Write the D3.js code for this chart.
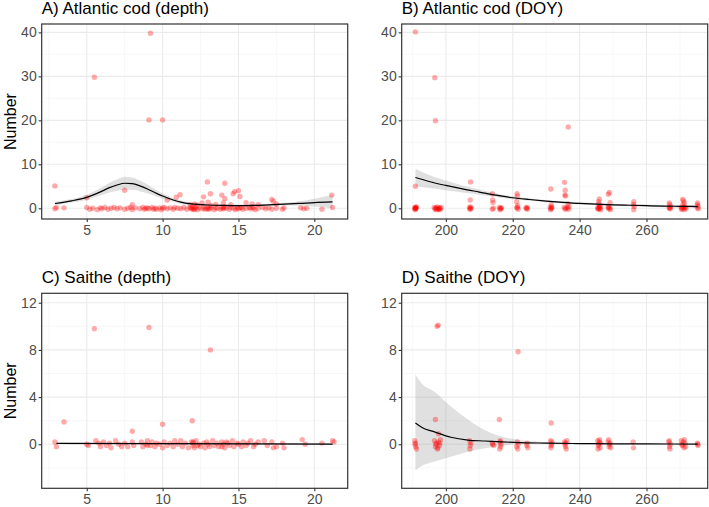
<!DOCTYPE html>
<html>
<head>
<meta charset="utf-8">
<script src="https://cdn.jsdelivr.net/npm/d3@7"></script>
<style>
  body { margin: 0; background: #fff; }
  svg { font-family: "Liberation Sans", Arial, sans-serif; }
</style>
</head>
<body>
<div class="canvas"></div>
<script>
// axis ticks
const depthTicks = [5, 10, 15, 20];
const doyTicks = [200, 220, 240, 260];
const codTicks = [0, 10, 20, 30, 40];
const saitheTicks = [0, 4, 8, 12];

// points: [x, number] (zero counts carry their jitter)
const codDepthPoints = [
  [9.2,39.8],[5.5,29.8],[9.1,20.1],[10.0,20.1],[2.9,5.1],[7.5,4.1],[5.0,2.4],[12.95,6.0],
  [14.1,5.7],[14.75,3.8],[15.0,4.0],[14.65,3.3],[15.1,2.7],[13.15,3.3],[13.9,3.0],[12.7,2.6],
  [14.1,2.2],[11.15,3.1],[10.9,2.5],[10.3,1.9],[13.0,1.4],[12.1,1.0],[12.6,1.2],[13.5,0.9],
  [15.5,1.3],[15.9,1.0],[16.3,0.8],[17.2,2.0],[17.3,1.6],[17.5,1.0],[21.15,3.0],[8.0,0.8],
  [11.8,0.8],[14.0,1.2],[14.5,0.8],[12.3,0.7],[13.2,0.6],
  [3.0,0.2],[2.9,-0.1],[3.5,0.1],[5.0,0.2],[5.2,-0.2],[5.4,0.0],[5.7,-0.3],[5.9,0.1],[6.0,-0.1],
  [6.2,0.2],[6.4,-0.2],[6.6,0.0],[6.8,0.2],[7.0,-0.1],[7.2,0.1],[7.5,-0.2],[7.7,0.0],[7.9,0.2],
  [8.0,-0.3],[8.2,0.1],[8.5,-0.1],[8.7,0.2],[8.8,-0.2],[9.0,0.1],[9.1,-0.1],[9.3,0.2],[9.5,0.0],
  [9.6,-0.2],[9.8,0.1],[9.9,-0.3],[10.0,0.0],[10.1,0.2],[10.3,-0.1],[10.5,0.1],[10.7,-0.2],
  [10.8,0.2],[11.0,0.0],[11.2,-0.1],[11.4,0.2],[11.6,-0.2],[11.8,0.1],[11.9,-0.1],[12.0,0.3],
  [12.0,-0.2],[12.1,0.0],[12.2,0.2],[12.3,-0.3],[12.4,0.1],[12.6,-0.1],[12.7,0.2],[12.8,-0.2],
  [12.9,0.0],[13.0,0.2],[13.1,-0.1],[13.2,0.1],[13.4,-0.3],[13.5,0.2],[13.6,0.0],[13.8,-0.2],
  [13.9,0.1],[14.0,-0.1],[14.1,0.3],[14.2,0.0],[14.4,-0.2],[14.5,0.2],[14.7,0.0],[14.8,-0.3],
  [14.9,0.1],[15.0,-0.1],[15.2,0.2],[15.3,-0.2],[15.5,0.0],[15.7,0.2],[15.8,-0.1],[16.0,0.1],
  [16.1,-0.3],[16.3,0.0],[16.6,0.2],[16.8,-0.1],[17.0,0.1],[17.2,-0.2],[17.5,0.0],[17.9,-0.2],
  [18.0,0.1],[19.1,0.1],[19.3,-0.1],[19.5,0.0],[20.5,-0.2],[21.2,0.2],
  [8.9,0.0],[9.4,-0.2],[11.9,0.2],[12.1,-0.3],[13.0,-0.2],[14.0,0.2],[15.1,0.1],[15.9,0.2]
];

const codDoyPoints = [
  [190.7,0.2],[191.0,-0.1],[190.9,0.0],[191.2,0.3],[190.8,-0.3],[191.1,0.1],[190.9,5.0],[190.9,40.1],
  [191.0,0.2],[190.8,-0.1],
  [196.5,0.2],[196.8,-0.2],[197.1,0.0],[197.4,0.3],[197.7,-0.1],[198.0,0.1],[198.3,-0.3],[198.6,0.2],
  [196.9,0.0],[197.9,-0.2],[196.7,29.7],[196.9,19.9],[197.3,-0.3],[198.2,0.0],
  [207.1,0.2],[207.3,-0.2],[207.6,0.0],[207.4,0.3],[207.2,-0.1],[207.4,6.0],[207.3,1.9],
  [213.9,3.3],[214.0,1.9],[214.1,1.3],[214.2,0.0],[213.9,-0.2],
  [216.0,0.2],[216.3,-0.1],[216.5,0.1],[216.2,-0.3],[216.6,0.0],
  [221.3,3.3],[221.4,2.8],[221.2,1.5],[221.5,0.6],[221.2,0.1],[221.6,-0.2],[221.4,0.2],
  [224.0,0.0],[224.3,-0.2],[224.4,0.1],[224.1,0.2],
  [231.4,4.4],[231.2,0.2],[231.5,-0.1],[231.7,0.1],[231.3,-0.3],[231.6,0.3],[231.5,0.8],
  [235.5,5.9],[235.7,4.1],[235.6,3.0],[235.8,2.8],[235.4,0.2],[235.7,-0.2],[235.9,0.0],
  [236.6,18.5],[236.5,1.0],[236.8,0.4],[236.4,0.1],[236.7,-0.2],
  [245.9,2.1],[245.7,1.5],[245.8,1.0],[246.0,0.5],[245.5,0.2],[245.7,-0.2],[246.0,0.0],[246.2,0.3],
  [245.4,-0.1],[246.3,-0.3],[245.8,0.1],
  [248.6,3.2],[248.9,3.6],[249.1,1.3],[248.5,0.2],[248.8,-0.1],[249.0,0.1],[249.2,-0.3],[248.7,0.3],
  [256.2,1.5],[256.1,0.9],[256.3,0.4],[256.2,-0.3],
  [266.8,1.2],[267.0,0.8],[266.8,0.2],[267.1,-0.1],[266.9,0.0],[267.2,0.3],
  [270.8,2.0],[271.1,1.7],[271.3,1.2],[270.9,0.8],[270.4,0.2],[270.7,-0.1],[271.0,0.1],[271.3,-0.3],
  [271.6,0.2],[271.8,0.0],[270.5,-0.2],[271.1,0.3],
  [275.3,1.2],[275.2,0.8],[275.4,0.5],[275.2,0.1],[275.5,-0.1]
];

const saitheDepthPoints = [
  [5.5,9.8],[9.1,9.9],[13.15,8.0],[3.5,1.9],[11.95,2.0],[10.0,1.7],[8.0,1.1],[19.2,0.4],
  [2.9,0.2],[3.0,-0.2],[5.0,0.0],[5.1,-0.1],[5.6,0.3],[5.8,0.1],[5.9,-0.2],[6.1,0.2],[6.3,-0.1],
  [6.5,0.1],[6.6,-0.3],[6.9,0.3],[7.1,0.0],[7.3,-0.2],[7.5,0.1],[7.7,-0.2],[8.0,0.2],[8.1,-0.1],
  [8.6,0.2],[8.7,-0.2],[8.9,0.0],[9.0,0.3],[9.2,-0.1],[9.3,0.2],[9.5,-0.2],[9.6,0.1],[9.8,0.0],
  [10.0,-0.3],[10.1,0.2],[10.3,-0.1],[10.5,0.1],[10.7,-0.2],[10.8,0.3],[11.0,0.0],[11.2,0.3],
  [11.3,-0.2],[11.5,0.1],[11.7,-0.3],[11.9,0.2],[12.0,-0.1],[12.0,0.1],[12.1,-0.3],[12.2,0.3],
  [12.4,0.0],[12.5,-0.2],[12.7,0.1],[12.8,-0.3],[12.9,0.2],[13.0,0.0],[13.1,-0.2],[13.3,0.3],
  [13.4,-0.1],[13.6,0.1],[13.7,-0.2],[13.9,0.2],[14.0,0.0],[14.1,-0.3],[14.3,0.1],[14.4,-0.1],
  [14.6,0.3],[14.7,-0.2],[14.9,0.1],[15.0,0.0],[15.2,-0.2],[15.3,0.2],[15.5,-0.1],[15.6,0.1],
  [15.8,0.3],[16.0,-0.2],[16.1,0.0],[16.3,0.2],[16.7,0.3],[16.9,-0.1],[17.2,0.2],[17.3,-0.3],
  [17.5,-0.2],[17.9,0.1],[18.0,-0.3],[19.4,0.0],[20.5,0.1],[21.2,0.3],[21.3,0.2],
  [9.0,-0.1],[12.0,0.2],[12.3,-0.1],[13.9,-0.2],[14.2,0.2]
];

const saitheDoyPoints = [
  [197.7,10.1],[197.4,10.0],[196.9,2.1],[221.6,7.85],[216.0,2.1],[231.5,1.8],[197.8,0.9],
  [190.7,0.3],[191.0,-0.2],[190.9,0.1],[191.2,-0.4],[190.8,0.0],
  [196.6,0.3],[196.9,-0.2],[197.2,0.1],[197.5,-0.4],[197.8,0.2],[198.1,-0.1],[198.4,0.4],[197.0,0.0],
  [197.6,-0.3],[198.2,0.1],
  [207.1,0.3],[207.3,-0.1],[207.5,0.1],[207.2,-0.4],
  [214.0,0.0],[214.3,-0.1],[213.9,0.1],
  [216.2,0.2],[216.4,-0.2],[216.1,-0.4],[216.5,0.0],[216.3,0.3],
  [221.4,0.2],[221.2,-0.2],[221.6,0.0],[221.5,-0.4],
  [224.3,0.1],[224.5,-0.3],[224.2,-0.1],
  [231.3,0.3],[231.5,-0.1],[231.7,0.2],[231.4,-0.3],[231.6,0.0],
  [235.5,0.2],[235.8,-0.2],[235.6,0.0],[236.2,0.3],[236.0,-0.4],[235.9,0.1],
  [245.4,0.3],[245.6,-0.1],[245.9,0.2],[246.1,-0.3],[245.7,0.0],[246.3,0.1],[245.5,-0.4],[246.0,0.4],
  [248.5,0.2],[248.8,-0.2],[249.1,0.1],[249.3,-0.3],[248.7,0.4],[249.0,0.0],
  [256.0,0.2],[256.1,-0.3],
  [266.7,0.2],[266.9,-0.2],[267.1,0.0],[266.8,0.3],[267.0,-0.4],
  [270.4,0.3],[270.7,-0.1],[271.0,0.2],[271.2,-0.3],[271.5,0.1],[271.7,-0.2],[270.6,0.0],[271.3,0.4],
  [275.2,0.1],[275.4,-0.1],[275.3,0.0]
];

// smoother fits with their confidence band
const codDepthFitX = [2.9, 4, 5, 6, 6.5, 7, 7.5, 8, 8.5, 9, 9.6, 10, 10.7, 11.2, 11.9, 13, 14, 15, 16, 17, 18, 19, 20, 21.2];
const codDepthFit  = [1.1, 1.7, 2.5, 3.9, 4.7, 5.3, 5.7, 5.6, 5.1, 4.4, 3.4, 2.8, 1.9, 1.4, 1.0, 0.75, 0.65, 0.6, 0.65, 0.8, 0.95, 1.1, 1.3, 1.45];
const codDepthLo   = [0.7, 1.3, 1.9, 3.0, 3.6, 4.0, 4.2, 4.2, 3.9, 3.4, 2.7, 2.2, 1.5, 1.0, 0.7, 0.5, 0.4, 0.35, 0.4, 0.55, 0.65, 0.6, 0.4, 0.0];
const codDepthHi   = [1.5, 2.1, 3.1, 4.8, 5.8, 6.6, 7.2, 7.0, 6.3, 5.4, 4.1, 3.4, 2.3, 1.8, 1.3, 1.0, 0.9, 0.85, 0.9, 1.05, 1.25, 1.6, 2.2, 3.0];

const codDoyFitX = [190.9, 195, 200, 205, 210, 215, 220, 225, 230, 235, 240, 245, 250, 255, 260, 265, 270, 275.3];
const codDoyFit  = [7.0, 6.1, 5.2, 4.4, 3.7, 3.0, 2.4, 2.0, 1.65, 1.35, 1.1, 0.95, 0.8, 0.7, 0.6, 0.5, 0.45, 0.4];
const codDoyLo   = [5.0, 4.6, 4.1, 3.6, 3.1, 2.55, 2.05, 1.7, 1.4, 1.1, 0.85, 0.7, 0.55, 0.45, 0.35, 0.25, 0.15, 0.05];
const codDoyHi   = [9.0, 7.6, 6.3, 5.2, 4.3, 3.45, 2.75, 2.3, 1.9, 1.6, 1.35, 1.2, 1.05, 0.95, 0.85, 0.75, 0.75, 0.75];

const saitheDepthFitX = [3.0, 21.2];
const saitheDepthFit  = [0.08, 0.02];
const saitheDepthLo   = [0.03, -0.03];
const saitheDepthHi   = [0.13, 0.07];

const saitheDoyFitX = [190.9, 193, 196.4, 201.5, 206.6, 211.7, 216.8, 222, 230, 240, 250, 260, 275.3];
const saitheDoyFit  = [1.8, 1.4, 1.07, 0.6, 0.36, 0.28, 0.2, 0.14, 0.1, 0.06, 0.04, 0.03, 0.02];
const saitheDoyLo   = [-2.2, -1.8, -1.47, -1.05, -0.63, -0.34, -0.12, 0.0, 0.05, 0.03, 0.02, 0.01, 0.0];
const saitheDoyHi   = [5.9, 5.1, 4.5, 3.2, 2.1, 1.2, 0.65, 0.36, 0.18, 0.1, 0.06, 0.05, 0.04];

const zip = (xs, fit, lo, hi) => xs.map((x, i) => ({x, fit: fit[i], lo: lo[i], hi: hi[i]}));

const W = 709, H = 507;
const panelW = 306, panelH = 195;

const svg = d3.select('.canvas')
    .append('svg')
    .attr('width', W)
    .attr('height', H);

const panels = [
    {title: 'A) Atlantic cod (depth)', left: 41.7, top: 24, xDom: [2.03, 22.2], yDom: [-2.43, 41.9],
     xTicks: depthTicks, xMinor: [2.5, 7.5, 12.5, 17.5], yTicks: codTicks, yMinor: [5, 15, 25, 35],
     points: codDepthPoints, fit: zip(codDepthFitX, codDepthFit, codDepthLo, codDepthHi), ylab: true},
    {title: 'B) Atlantic cod (DOY)', left: 401.7, top: 24, xDom: [186.8, 278.3], yDom: [-2.43, 41.9],
     xTicks: doyTicks, xMinor: [190, 210, 230, 250, 270], yTicks: codTicks, yMinor: [5, 15, 25, 35],
     points: codDoyPoints, fit: zip(codDoyFitX, codDoyFit, codDoyLo, codDoyHi), ylab: false},
    {title: 'C) Saithe (depth)', left: 41.7, top: 293.3, xDom: [2.03, 22.2], yDom: [-3.73, 12.8],
     xTicks: depthTicks, xMinor: [2.5, 7.5, 12.5, 17.5], yTicks: saitheTicks, yMinor: [-2, 2, 6, 10],
     points: saitheDepthPoints, fit: zip(saitheDepthFitX, saitheDepthFit, saitheDepthLo, saitheDepthHi), ylab: true},
    {title: 'D) Saithe (DOY)', left: 401.7, top: 293.3, xDom: [186.8, 278.3], yDom: [-3.73, 12.8],
     xTicks: doyTicks, xMinor: [190, 210, 230, 250, 270], yTicks: saitheTicks, yMinor: [-2, 2, 6, 10],
     points: saitheDoyPoints, fit: zip(saitheDoyFitX, saitheDoyFit, saitheDoyLo, saitheDoyHi), ylab: false}
];

panels.forEach(p => {
    const g = svg.append('g')
        .attr('transform', `translate(${p.left},${p.top})`);

    const x = d3.scaleLinear().domain(p.xDom).range([0, panelW]);
    const y = d3.scaleLinear().domain(p.yDom).range([panelH, 0]);

    // grid, minor then major
    g.selectAll('.vminor').data(p.xMinor).enter().append('line')
        .attr('x1', d => x(d)).attr('x2', d => x(d)).attr('y1', 0).attr('y2', panelH)
        .attr('stroke', '#f2f2f2').attr('stroke-width', 0.6);
    g.selectAll('.hminor').data(p.yMinor).enter().append('line')
        .attr('y1', d => y(d)).attr('y2', d => y(d)).attr('x1', 0).attr('x2', panelW)
        .attr('stroke', '#f2f2f2').attr('stroke-width', 0.6);
    g.selectAll('.vmajor').data(p.xTicks).enter().append('line')
        .attr('x1', d => x(d)).attr('x2', d => x(d)).attr('y1', 0).attr('y2', panelH)
        .attr('stroke', '#ebebeb').attr('stroke-width', 1.1);
    g.selectAll('.hmajor').data(p.yTicks).enter().append('line')
        .attr('y1', d => y(d)).attr('y2', d => y(d)).attr('x1', 0).attr('x2', panelW)
        .attr('stroke', '#ebebeb').attr('stroke-width', 1.1);

    // confidence band
    const band = d3.area()
        .x(d => x(d.x))
        .y0(d => y(d.lo))
        .y1(d => y(d.hi))
        .curve(d3.curveMonotoneX);
    g.append('path').datum(p.fit)
        .attr('d', band)
        .attr('fill', '#999999')
        .attr('fill-opacity', 0.3);

    // points
    g.selectAll('circle').data(p.points).enter().append('circle')
        .attr('cx', d => x(d[0]))
        .attr('cy', d => y(d[1]))
        .attr('r', 2.7)
        .attr('fill', 'red')
        .attr('fill-opacity', 0.33);

    // fitted line
    const line = d3.line()
        .x(d => x(d.x))
        .y(d => y(d.fit))
        .curve(d3.curveMonotoneX);
    g.append('path').datum(p.fit)
        .attr('d', line)
        .attr('fill', 'none')
        .attr('stroke', '#000')
        .attr('stroke-width', 1.2);

    // panel border
    g.append('rect')
        .attr('width', panelW).attr('height', panelH)
        .attr('fill', 'none')
        .attr('stroke', '#333333')
        .attr('stroke-width', 1.2);

    // axes
    const xAxis = d3.axisBottom(x).tickValues(p.xTicks).tickSize(3).tickPadding(3);
    const yAxis = d3.axisLeft(y).tickValues(p.yTicks).tickSize(3).tickPadding(2);

    const xg = g.append('g').attr('transform', `translate(0,${panelH})`).call(xAxis);
    const yg = g.append('g').call(yAxis);
    [xg, yg].forEach(a => {
        a.select('.domain').remove();
        a.selectAll('line').attr('stroke', '#333333').attr('stroke-width', 1.1);
        a.selectAll('text')
            .attr('fill', '#4d4d4d')
            .style('font-size', '14px')
            .style('font-family', '"Liberation Sans", Arial, sans-serif');
    });

    // title
    g.append('text')
        .attr('x', 0)
        .attr('y', -10)
        .attr('fill', '#000')
        .style('font-size', '17px')
        .text(p.title);

    if (p.ylab) {
        svg.append('text')
            .attr('transform', `translate(16,${p.top + panelH / 2}) rotate(-90)`)
            .attr('text-anchor', 'middle')
            .attr('fill', '#000')
            .style('font-size', '16px')
            .text('Number');
    }
});
</script>
</body>
</html>
